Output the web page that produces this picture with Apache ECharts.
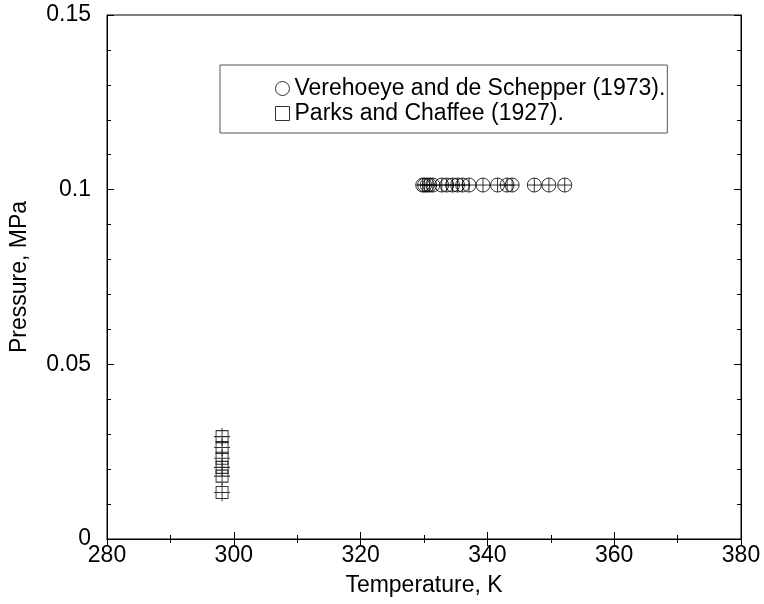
<!DOCTYPE html>
<html>
<head>
<meta charset="utf-8">
<script src="https://cdn.jsdelivr.net/npm/echarts@6/dist/echarts.min.js"></script>
<style>
  html, body { margin: 0; padding: 0; background: #fff; }
  #chart { width: 764px; height: 604px; }
</style>
</head>
<body>
<div id="chart"></div>
<script>
// Verehoeye and de Schepper (1973): temperature K, pressure MPa
var verTemp = [329.8, 330.1, 330.5, 330.9, 331.4, 332.8, 333.6, 334.5, 335.3, 336.1,
               337.1, 339.3, 341.6, 343.1, 343.9, 347.4, 349.7, 352.2];
var verPress = [0.101325, 0.101325, 0.101325, 0.101325, 0.101325, 0.101325, 0.101325,
                0.101325, 0.101325, 0.101325, 0.101325, 0.101325, 0.101325, 0.101325,
                0.101325, 0.101325, 0.101325, 0.101325];

// Parks and Chaffee (1927)
var parksTemp = [298.15, 298.15, 298.15, 298.15, 298.15, 298.15];
var parksPress = [0.0293, 0.0262, 0.0231, 0.0205, 0.0180, 0.0133];

var seriesNames = ['Verehoeye and de Schepper (1973).', 'Parks and Chaffee (1927).'];

function pairs(xs, ys) {
  return xs.map(function (x, i) { return [x, ys[i]]; });
}

var font = 'Liberation Sans, Arial, sans-serif';
var circleCross = 'path://M10,0A10,10,0,1,1,-10,0A10,10,0,1,1,10,0ZM-10,0L10,0M0,-10L0,10';
var squareCross = 'path://M-6,-6L6,-6L6,6L-6,6ZM-8,0L8,0M0,-9L0,9';
var markStyle = { color: 'transparent', borderColor: '#000', borderWidth: 1 };

var chart = echarts.init(document.getElementById('chart'));
chart.setOption({
  animation: false,
  backgroundColor: '#fff',
  grid: { left: 106, right: 23, top: 15, bottom: 65, show: true, borderColor: '#000', borderWidth: 1 },
  legend: {
    orient: 'vertical',
    left: 220,
    top: 65,
    padding: [12, 2, 8, 55],
    itemGap: 2,
    itemWidth: 14,
    itemHeight: 14,
    borderColor: '#555',
    borderWidth: 1,
    textStyle: { fontFamily: font, fontSize: 23, color: '#000' },
    data: [
      { name: seriesNames[0], icon: 'circle', itemStyle: markStyle },
      { name: seriesNames[1], icon: 'rect', itemStyle: markStyle }
    ]
  },
  xAxis: [{
    type: 'value', min: 280, max: 380, interval: 20,
    name: 'Temperature, K', nameLocation: 'middle', nameGap: 35,
    nameTextStyle: { fontFamily: font, fontSize: 23, color: '#000' },
    axisLine: { lineStyle: { color: '#000' } },
    axisTick: { inside: true, length: 7, lineStyle: { color: '#000' } },
    minorTick: { show: true, splitNumber: 2, length: 4, lineStyle: { color: '#000' } },
    axisLabel: { fontFamily: font, fontSize: 23, color: '#000', margin: 5 },
    splitLine: { show: false }
  }, {
    type: 'value', min: 280, max: 380, interval: 20, position: 'top',
    axisLine: { lineStyle: { color: '#000' } },
    axisTick: { inside: true, length: 7, lineStyle: { color: '#000' } },
    minorTick: { show: true, splitNumber: 2, length: 4, lineStyle: { color: '#000' } },
    axisLabel: { show: false },
    splitLine: { show: false }
  }],
  yAxis: [{
    type: 'value', min: 0, max: 0.15, interval: 0.05,
    name: 'Pressure, MPa', nameLocation: 'middle', nameGap: 76,
    nameTextStyle: { fontFamily: font, fontSize: 23, color: '#000' },
    axisLine: { lineStyle: { color: '#000' } },
    axisTick: { inside: true, length: 7, lineStyle: { color: '#000' } },
    minorTick: { show: true, splitNumber: 5, length: 4, lineStyle: { color: '#000' } },
    axisLabel: { fontFamily: font, fontSize: 23, color: '#000', margin: 16 },
    splitLine: { show: false }
  }, {
    type: 'value', min: 0, max: 0.15, interval: 0.05, position: 'right',
    axisLine: { lineStyle: { color: '#000' } },
    axisTick: { inside: true, length: 7, lineStyle: { color: '#000' } },
    minorTick: { show: true, splitNumber: 5, length: 4, lineStyle: { color: '#000' } },
    axisLabel: { show: false },
    splitLine: { show: false }
  }],
  series: [{
    name: seriesNames[0],
    type: 'scatter',
    symbol: circleCross,
    symbolSize: 14,
    itemStyle: markStyle,
    data: pairs(verTemp, verPress)
  }, {
    name: seriesNames[1],
    type: 'scatter',
    symbol: squareCross,
    symbolSize: [16, 18],
    itemStyle: markStyle,
    data: pairs(parksTemp, parksPress)
  }]
});
</script>
</body>
</html>
